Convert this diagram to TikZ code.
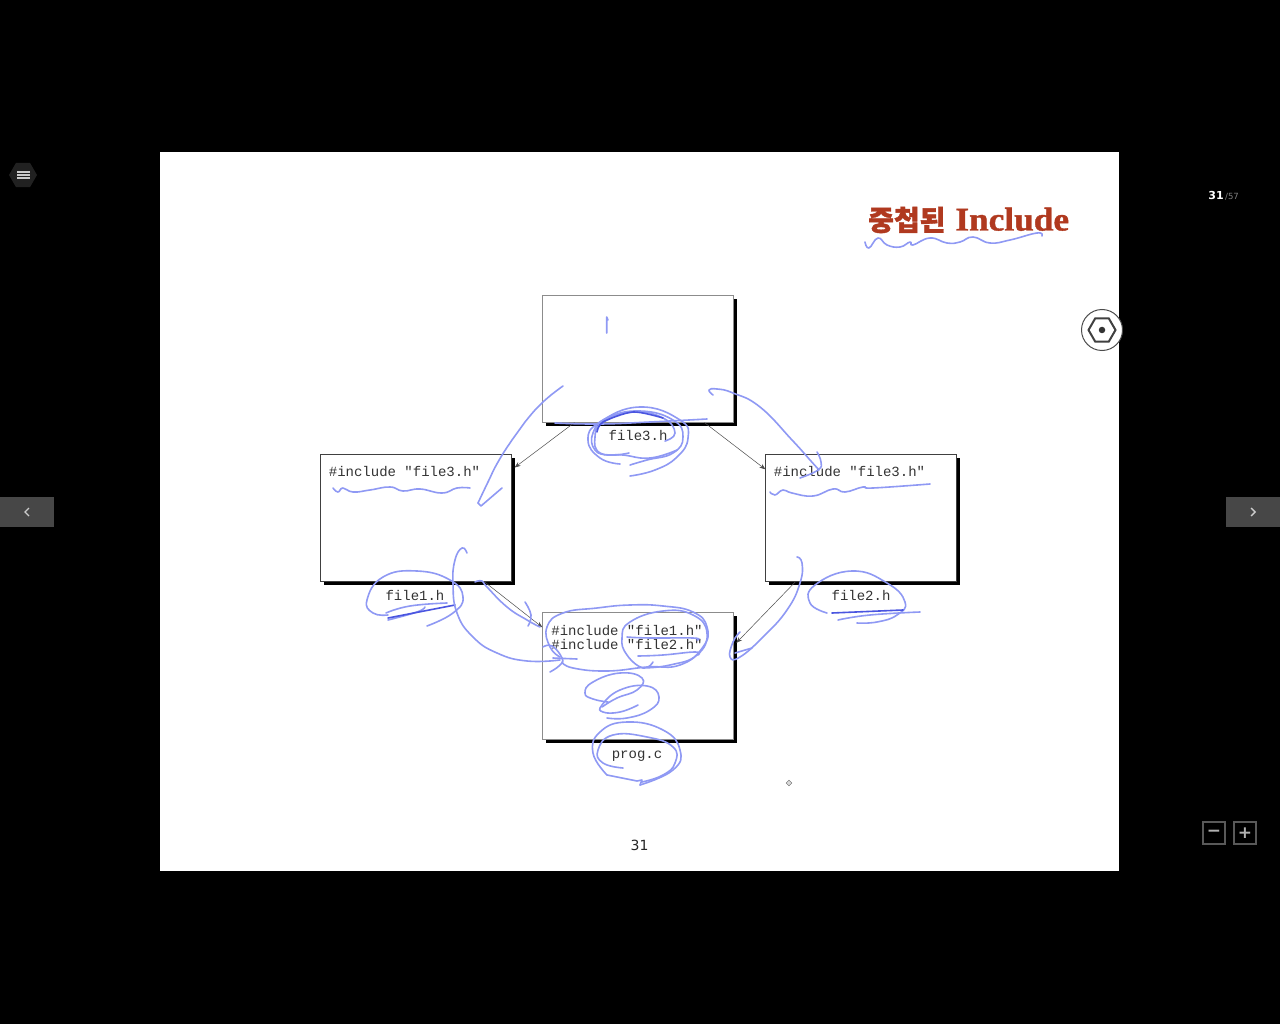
\documentclass[tikz,border=0pt]{standalone}
\usepackage{fontspec}
\setmainfont{Liberation Serif}
\setmonofont{Liberation Mono}
\setsansfont{DejaVu Sans}
\newfontfamily\cjk[FakeBold=1.2]{Noto Sans CJK KR}
\newfontfamily\headfont[BoldFeatures={FakeStretch=1.07,FakeBold=1.2}]{Liberation Serif}
\usetikzlibrary{shadows,shapes.geometric,arrows.meta}
\definecolor{penblue}{HTML}{8F99F4}
\definecolor{pendark}{HTML}{4A55E0}
\definecolor{titlered}{HTML}{B0391F}
\begin{document}
\begin{tikzpicture}[x=1pt, y=-1pt,
  filebox/.style={draw=black!75, fill=white, line width=0.8pt, minimum width=191pt, minimum height=127pt, inner sep=0pt,
    drop shadow={shadow xshift=3.5pt, shadow yshift=-3.5pt, fill=black, opacity=1}},
  paleedge/.style={draw=black!45},
  code/.style={font=\ttfamily\fontsize{14}{14}\selectfont, text=black!80, inner sep=0pt},
  incl/.style={-{Stealth[length=6pt,width=4.5pt]}, draw=black!70, line width=0.5pt},
  pen/.style={draw=penblue, line width=1.6pt, line cap=round, line join=round, tension=0.8},
  pendeep/.style={draw=pendark, line width=1.6pt, line cap=round, line join=round},
  uibox/.style={draw=black!65, line width=1.2pt, minimum size=22pt, inner sep=0pt, text=black!30, font=\sffamily\bfseries\fontsize{17}{17}\selectfont},
  arrowpad/.style={fill=black!72, minimum width=54pt, minimum height=30pt, inner sep=0pt}]
\useasboundingbox (0,0) rectangle (1280,1024);
\fill[black] (0,0) rectangle (1280,1024);
\fill[white] (160,152) rectangle (1119,871);

% boxes
\node[filebox, paleedge] (file3) at (638.3,358.7) {};
\node[filebox] (file1) at (416.3,518.2) {};
\node[filebox] (file2) at (861.3,518.2) {};
\node[filebox, paleedge] (prog) at (638.3,676.2) {};

% texts
\node[code] (file3name) at (638,435.5) {file3.h};
\node[code] (file1name) at (415,595.5) {file1.h};
\node[code] (file2name) at (861,595.5) {file2.h};
\node[code] (progname) at (637,756) {prog.c};
\node[code] (file1inc) at (404.5,472) {\#include "file3.h"};
\node[code] (file2inc) at (849.5,472) {\#include "file3.h"};
\node[code] (proginca) at (627,631) {\#include "file1.h"};
\node[code] (progincb) at (627,645) {\#include "file2.h"};

% includes
\draw[incl, shorten >=3pt] (file3.-135.6) to (file1.27.4);
\draw[incl] (file3.-44) to (file2.153);
\draw[incl] (file1.-43.7) to (prog.153.6);
\draw[incl, shorten >=3pt] (file2.-136) to (prog.18.3);

% title and page number
\node[anchor=west, inner sep=0pt, text=titlered, font=\headfont\bfseries\fontsize{33}{33}\selectfont] (title) at (868,220) {{\cjk\fontsize{28}{28}\selectfont 중첩된}\hspace{1pt} Include};
\node[inner sep=0pt, font=\sffamily\fontsize{14}{14}\selectfont, text=black!85] (pagenum) at (639.5,845) {31};
\node[draw=black!60, fill=black!15, diamond, minimum size=6pt, inner sep=0pt] (cursor) at (789,783) {};

% pen strokes: title, file3
\draw[pen] plot[smooth] coordinates {(865,242) (869,248) (878,238) (887,245) (900,247) (910,242) (913,245) (930,238) (947,243) (960,242) (973,237) (990,243) (1010,240) (1037,233) (1042,236)};
\draw[pen] plot coordinates {(606.7,333) (606.7,317) (608,320)};
\draw[pen] plot[smooth] coordinates {(563,386) (543,402) (525,422) (512,440) (498,462) (488,482) (478,503)};
\draw[pen] plot coordinates {(478,503) (481,506) (502,488)};
\draw[pen] plot[smooth] coordinates {(713,395) (709,390) (717,389) (733,393) (760,407) (792,440) (810,460) (819,470)};
\draw[pen] plot[smooth] coordinates {(817,452) (821,462) (818,470) (800,478)};
\draw[pen] plot[smooth] coordinates {(555,423) (600,424) (650,422) (707,419)};
\draw[pen] plot[smooth] coordinates {(620,464) (600,458) (588,440) (600,422) (640,407) (680,420) (688,438) (677,457) (655,470) (630,476)};
\draw[pen] plot[smooth] coordinates {(629,453) (610,455) (595,450) (593,433) (607,418) (640,411) (673,420) (683,437) (673,453) (647,460) (630,465)};
\draw[pen] plot[smooth] coordinates {(665,441) (675,433) (663,418) (633,412) (603,422) (595,437) (600,453) (623,455) (650,458) (677,450)};
\draw[pendeep] plot[smooth] coordinates {(597,432) (603,422) (633,412) (663,418)};

% file1
\draw[pen] plot[smooth] coordinates {(333,488) (338,492) (343,488) (353,492) (370,490) (390,487) (403,491) (420,489) (442,493) (457,488) (470,488)};
\draw[pen] plot[smooth] coordinates {(427,626) (453,613) (463,597) (450,580) (417,571) (383,577) (367,600) (373,613) (388,615)};
\draw[pen] plot[smooth] coordinates {(386,613) (410,606) (447,603)};
\draw[pen] plot[smooth] coordinates {(388,620) (417,612) (425,607)};
\draw[pendeep] (388,618) -- (455,605);
\draw[pen] plot[smooth] coordinates {(467,553) (462,548) (455,560) (453,583) (457,613) (473,637) (497,653) (527,661) (560,660)};
\draw[pen] plot[smooth] coordinates {(550,672) (560,665) (562,658) (552,646) (543,647)};
\draw[pen] (553,658) -- (577,659);
\draw[pen] plot[smooth] coordinates {(475,582) (482,581) (487,587) (507,607) (527,620) (540,627)};
\draw[pen] plot[smooth] coordinates {(525,602) (531,615) (528,626)};

% file2
\draw[pen] plot[smooth] coordinates {(770,492) (775,495) (783,490) (792,493) (813,496) (833,489) (845,492) (863,487) (873,488) (930,484)};
\draw[pen] plot[smooth] coordinates {(797,557) (802,563) (800,583) (787,610) (763,637) (740,657) (730,657) (733,642) (740,632)};
\draw[pen] plot[smooth] coordinates {(735,653) (752,648)};
\draw[pen] plot[smooth] coordinates {(827,613) (810,603) (815,585) (852,571) (887,583) (905,602) (897,615) (877,622) (857,623)};
\draw[pendeep] (832,613) -- (903,610);
\draw[pen] plot[smooth] coordinates {(838,620) (870,615) (920,612)};

% prog
\draw[pen] plot[smooth] coordinates {(562,662) (573,668) (607,671) (647,667) (680,665) (703,647) (707,627) (693,612) (663,606) (630,605) (597,608) (563,613) (547,627) (550,647) (560,657)};
\draw[pen] plot[smooth] coordinates {(653,662) (643,668) (627,655) (622,638) (630,622) (663,611) (693,615) (707,633) (697,655) (670,665) (643,668)};
\draw[pen] plot[smooth] coordinates {(627,637) (650,638) (693,638) (697,640)};
\draw[pen] plot[smooth] coordinates {(638,656) (663,655) (695,652) (698,655)};
\draw[pen] plot[smooth] coordinates {(608,702) (593,699) (585,693) (593,682) (620,673) (642,678) (637,690) (617,698) (602,707)};
\draw[pen] plot[smooth] coordinates {(638,705) (620,712) (603,712) (602,705) (620,690) (647,686) (659,697) (650,710) (627,718) (607,718)};
\draw[pen] plot[smooth] coordinates {(607,775) (593,753) (600,732) (627,722) (663,730) (680,750) (673,770) (640,785)};
\draw[pen] plot coordinates {(640,785) (642,780) (637,781) (607,775)};
\draw[pen] plot[smooth] coordinates {(623,768) (603,763) (598,750) (613,735) (647,737) (673,747) (675,763) (663,775) (642,782)};

% viewer controls
\node[regular polygon, regular polygon sides=6, fill=black!87, minimum size=28pt, inner sep=0pt] (menu) at (23,175) {};
\foreach \y in {172,175,178}
  \draw[white!80!black, line width=1.3pt] (17,\y) -- (30,\y);
\node[inner sep=0pt, text=white, font=\sffamily\bfseries\fontsize{11}{11}\selectfont] (slidenum) at (1216,195.5) {31};
\node[anchor=west, inner sep=0pt, text=black!50, font=\sffamily\fontsize{8.5}{8.5}\selectfont] (slidetotal) at (1225,196.5) {/57};
\node[arrowpad] (prev) at (27,512) {};
\node[arrowpad] (next) at (1253,512) {};
\draw[black!20, line width=1.4pt] (29,508) -- (25,512) -- (29,516);
\draw[black!20, line width=1.4pt] (1251,508) -- (1255,512) -- (1251,516);
\node[circle, draw=black!70, fill=white, line width=1pt, minimum size=41pt, inner sep=0pt] (tool) at (1102,330) {};
\node[regular polygon, regular polygon sides=6, draw=black!75, line width=2pt, minimum size=27pt, inner sep=0pt] (toolhex) at (1102,330) {};
\node[circle, fill=black!80, minimum size=6.5pt, inner sep=0pt] (tooldot) at (1102,330) {};
\node[uibox] (minus) at (1214,833) {\raisebox{-1.5pt}{−}};
\node[uibox] (plus) at (1245,833) {+};
\end{tikzpicture}
\end{document}
